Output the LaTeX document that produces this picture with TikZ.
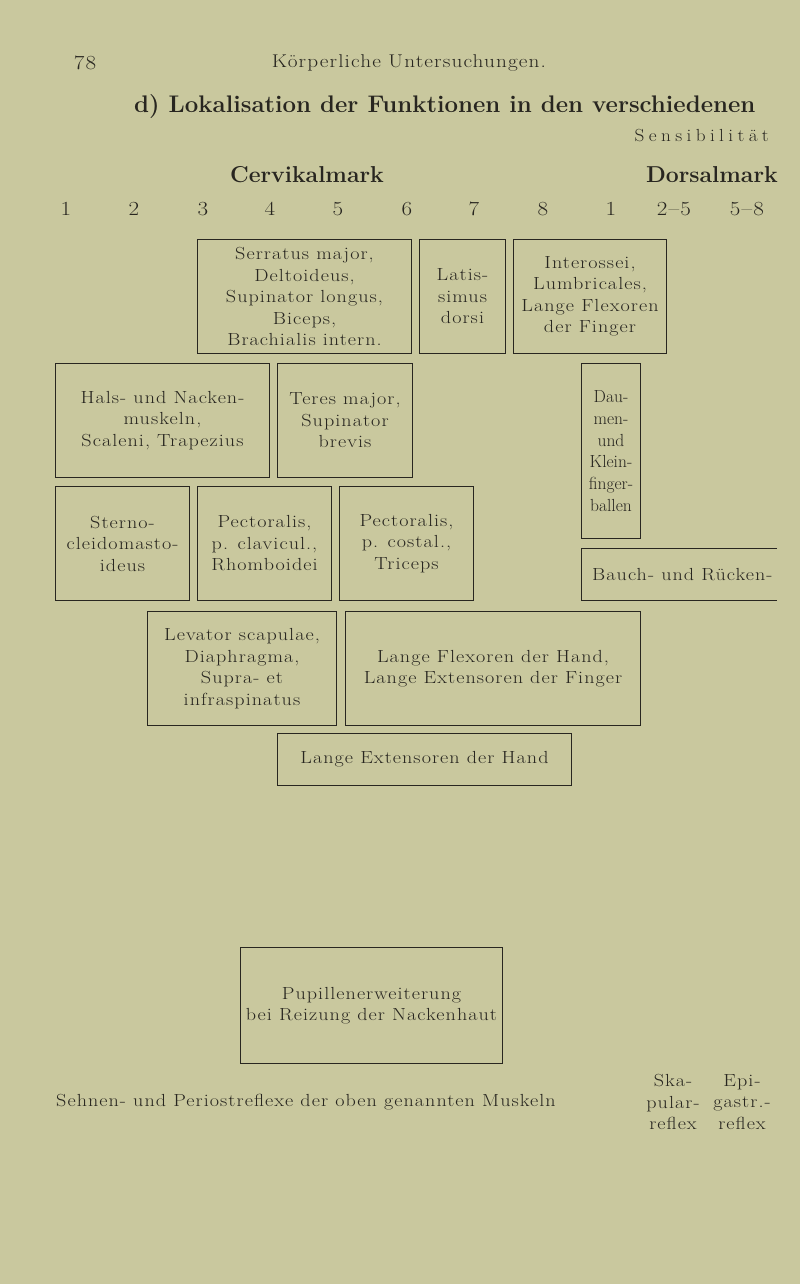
\documentclass[tikz,border=0pt]{standalone}
\usepackage{fontspec}
\usepackage{xcolor}
\newfontfamily\body{Latin Modern Roman}[FakeStretch=1.15,LetterSpace=6]
\newfontfamily\bodywide{Latin Modern Roman}[FakeStretch=1.1,LetterSpace=25]
\definecolor{paper}{RGB}{201,200,158}
\definecolor{ink}{RGB}{40,38,32}
\begin{document}
\begin{tikzpicture}[x=1pt,y=-1pt,
  bx/.style={draw=ink,line width=1pt,anchor=north west,align=center,inner sep=0pt,
    font=\body\fontsize{17.5}{21.5}\selectfont,text=ink},
  txt/.style={text=ink,inner sep=0pt,font=\body\fontsize{17.5}{21.5}\selectfont,align=center},
  num/.style={text=ink,inner sep=0pt,font=\body\fontsize{20}{24}\selectfont}]
\fill[paper] (0,0) rectangle (800,1284);
\useasboundingbox (0,0) rectangle (800,1284);
\node[num,font=\body\fontsize{20}{22}\selectfont] (pg) at (85,63) {78};
\node[txt,font=\body\fontsize{18.5}{20}\selectfont] (hd) at (409,63) {Körperliche Untersuchungen.};
\node[txt,anchor=west,font=\fontsize{24}{26}\bfseries] (title) at (134,107) {d)\ Lokalisation der Funktionen in den verschiedenen};
\node[txt,anchor=east,font=\bodywide\fontsize{17.5}{18}\selectfont] (sens) at (769,136) {Sensibilität};
\node[txt,font=\fontsize{23}{25}\bfseries] (cerv) at (307,175) {Cervikalmark};
\node[txt,anchor=east,font=\fontsize{23}{25}\bfseries] (dors) at (778,175) {Dorsalmark};
\foreach \x/\t [count=\i] in {66/1,134/2,203/3,270/4,338/5,407/6,474/7,543/8,611/1,674/2–5,747/5–8}
  \node[num] (n\i) at (\x,209) {\t};
% row 1
\node[bx,minimum width=214,minimum height=114] (serr) at (197,239) {Serratus major,\\Deltoideus,\\Supinator longus,\\Biceps,\\Brachialis intern.};
\node[bx,minimum width=86,minimum height=114] (lat) at (419,239) {Latis-\\simus\\dorsi};
\node[bx,minimum width=153,minimum height=114] (inter) at (513,239) {Interossei,\\Lumbricales,\\Lange Flexoren\\der Finger};
% row 2
\node[bx,minimum width=214,minimum height=114] (hals) at (55,363) {Hals- und Nacken-\\muskeln,\\Scaleni, Trapezius};
\node[bx,minimum width=135,minimum height=114] (teres) at (277,363) {Teres major,\\Supinator\\brevis};
\node[bx,minimum width=59,minimum height=175,font=\fontsize{17.5}{21.8}\selectfont] (daum) at (581,363) {Dau-\\men-\\und\\Klein-\\finger-\\ballen};
% row 3
\node[bx,minimum width=134,minimum height=114] (stern) at (55,486) {Sterno-\\cleidomasto-\\ideus};
\node[bx,minimum width=134,minimum height=114] (pclav) at (197,486) {Pectoralis,\\p. clavicul.,\\Rhomboidei};
\node[bx,minimum width=134,minimum height=114] (pcost) at (339,486) {Pectoralis,\\p. costal.,\\Triceps};
\node[txt,anchor=west] (bauch) at (592,575) {Bauch- und Rücken-};
\draw[ink,line width=1pt] (777,548) -- (581,548) -- (581,600) -- (777,600);
% row 4
\node[bx,minimum width=189,minimum height=114] (lev) at (147,611) {Levator scapulae,\\Diaphragma,\\Supra- et\\infraspinatus};
\node[bx,minimum width=295,minimum height=114] (lflex) at (345,611) {Lange Flexoren der Hand,\\Lange Extensoren der Finger};
\node[bx,minimum width=294,minimum height=52] (lext) at (277,733) {Lange Extensoren der Hand};
\node[bx,minimum width=262,minimum height=116] (pup) at (240,947) {Pupillenerweiterung\\bei Reizung der Nackenhaut};
\node[txt] (sehn) at (306,1102) {Sehnen- und Periostreflexe der oben genannten Muskeln};
\node[txt] (ska) at (673,1102) {Ska-\\pular-\\reflex};
\node[txt] (epi) at (742,1102) {Epi-\\gastr.-\\reflex};
\end{tikzpicture}
\end{document}
